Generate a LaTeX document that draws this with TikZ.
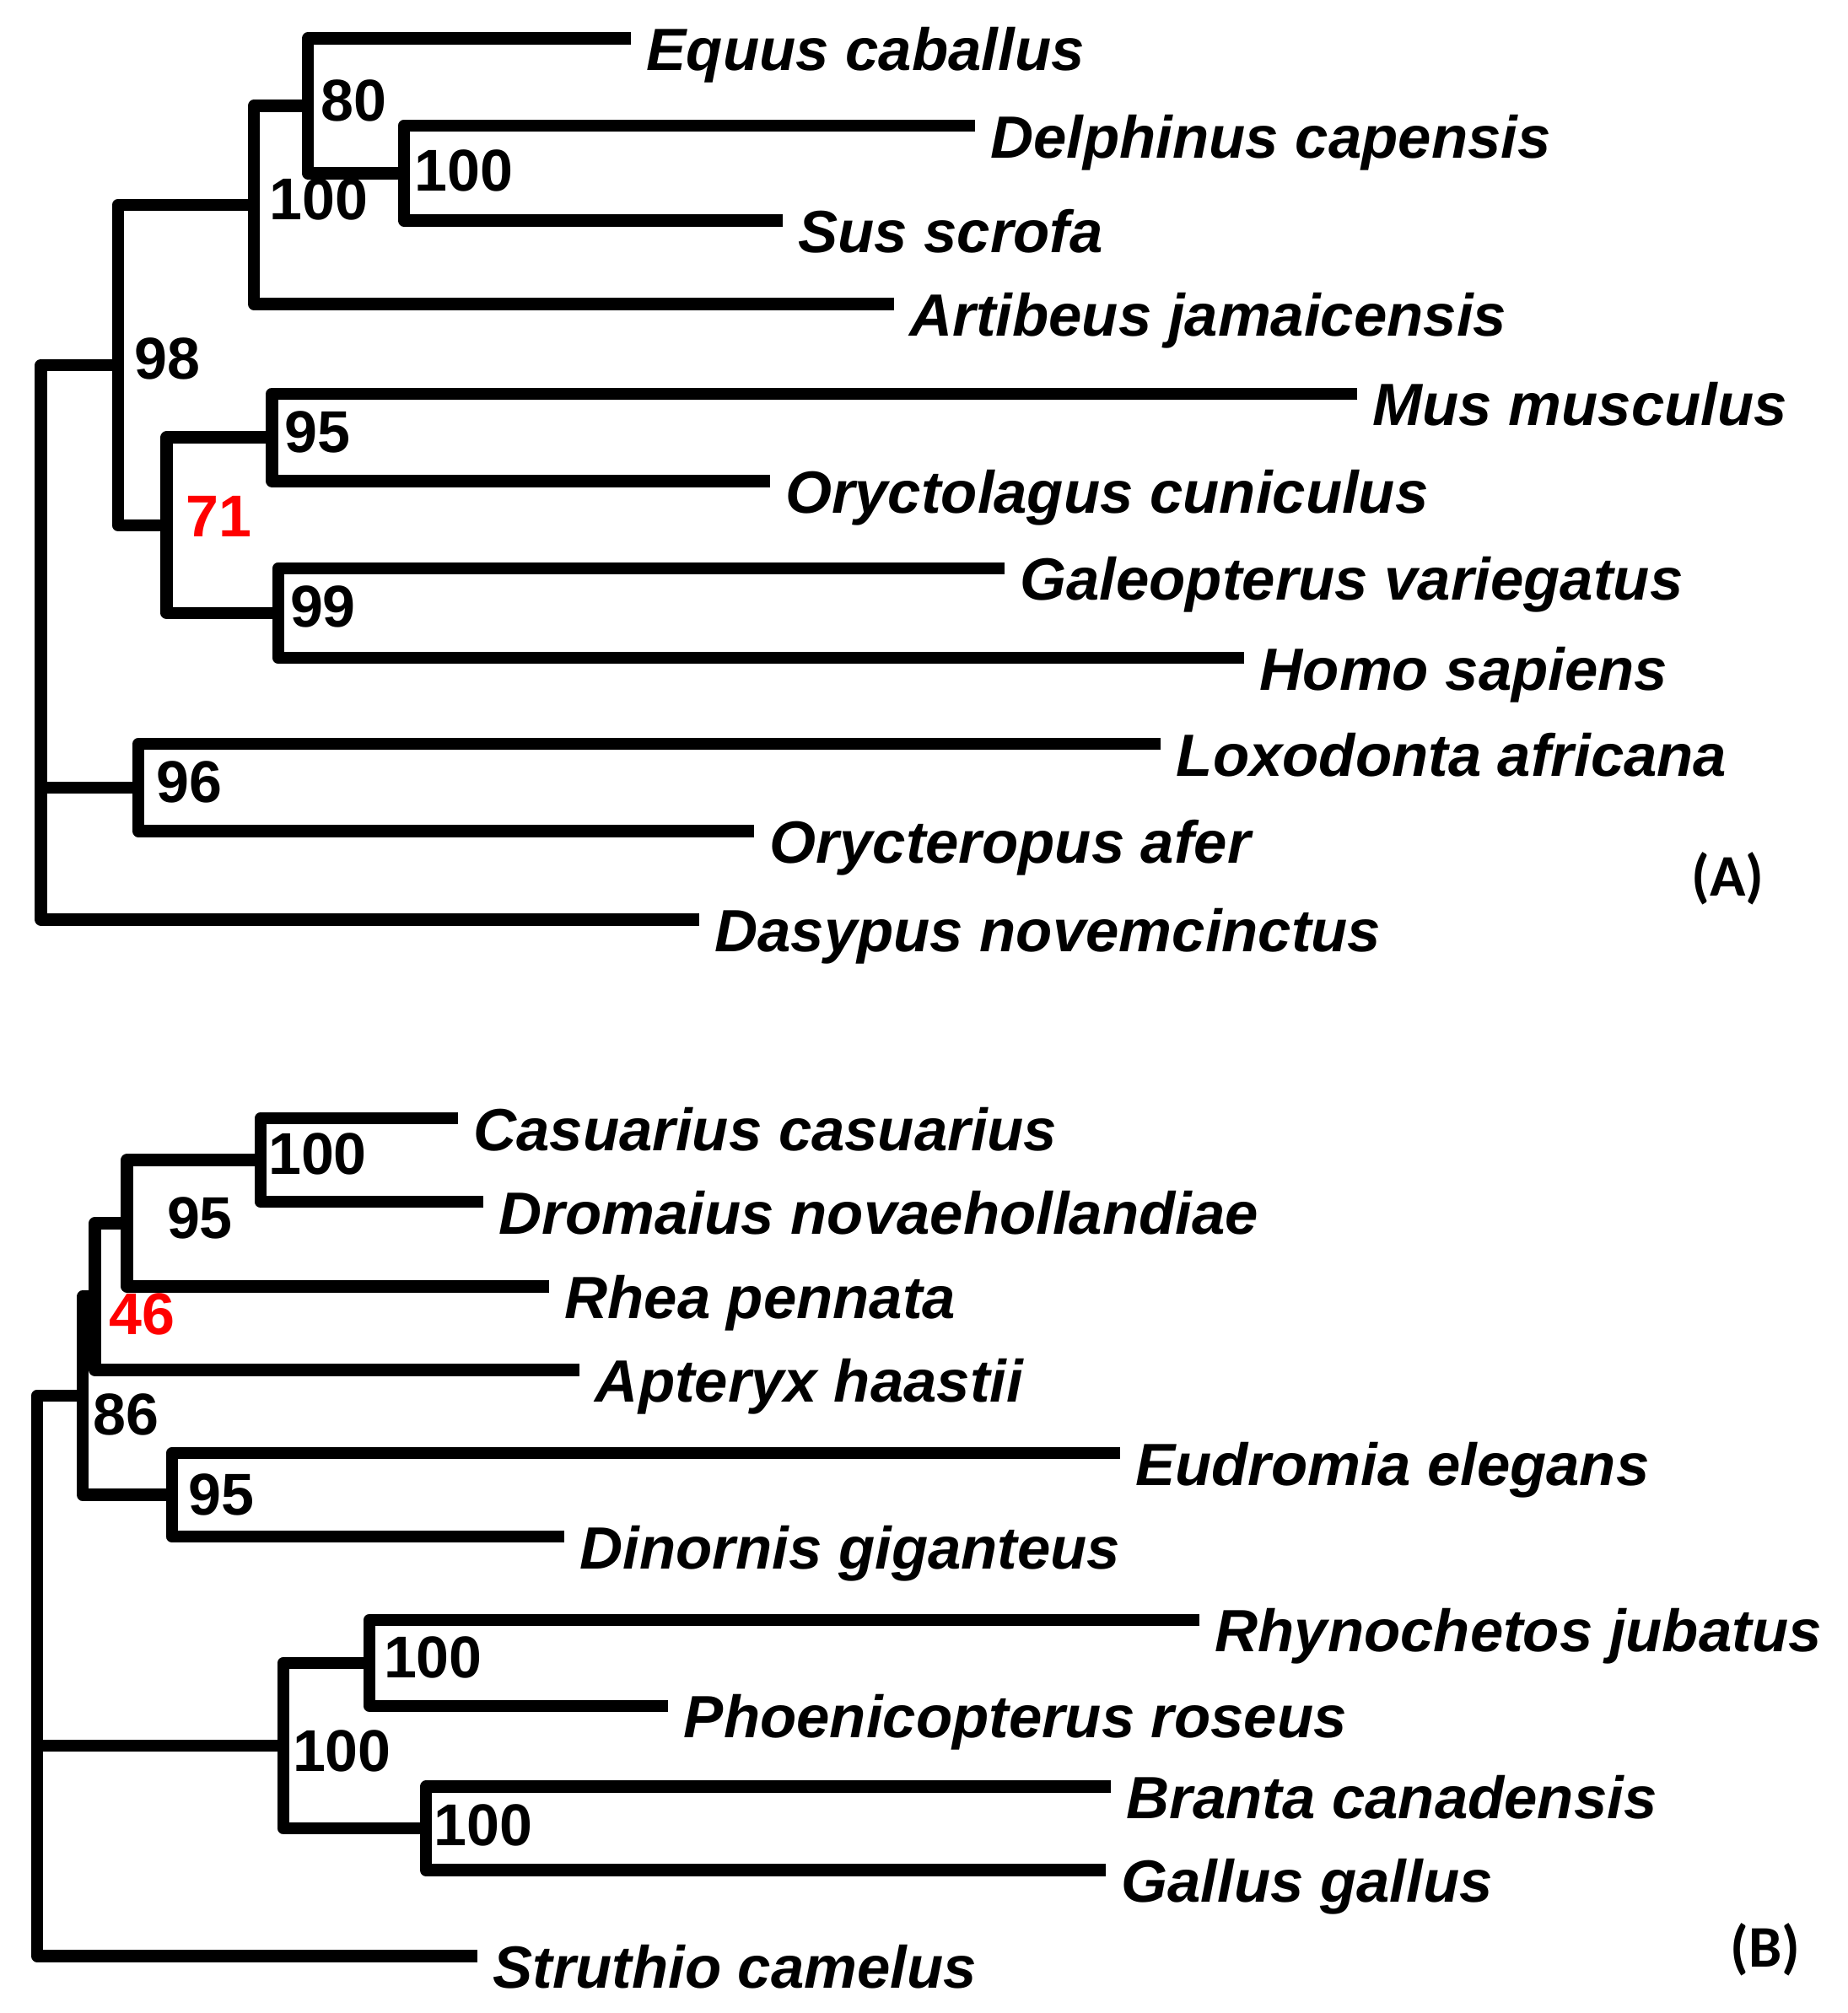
\documentclass[tikz,border=0pt]{standalone}
\usepackage{fontspec}
\setmainfont{Liberation Sans}
\newfontfamily\panelfont{Carlito}
\usetikzlibrary{calc}

\tikzset{
  branch/.style={line width=9.5pt, line join=round},
  taxon/.style={anchor=base west, inner sep=0pt,
    font=\fontsize{46.5}{50}\selectfont\bfseries\itshape},
  supp/.style={anchor=west, inner sep=0pt,
    font=\fontsize{46}{50}\selectfont\bfseries},
  panel/.style={inner sep=0pt, font=\fontsize{46}{50}\selectfont\panelfont\bfseries},
}

\begin{document}
\begin{tikzpicture}[x=1pt,y=-1pt]
    \useasboundingbox (0,0) rectangle (1440,1569.5);
    % leaves: tip of branch, then the name
    \foreach \n/\x/\y/\t in {equus/492/30/Equus caballus,
      delphinus/760/98/Delphinus capensis,
      sus/610/172/Sus scrofa,
      artibeus/697/237/Artibeus jamaicensis,
      mus/1058/307/Mus musculus,
      oryctolagus/600/375/Oryctolagus cuniculus,
      galeopterus/783/443/Galeopterus variegatus,
      homo/970/513/Homo sapiens,
      loxodonta/905/580/Loxodonta africana,
      orycteropus/588/648/Orycteropus afer,
      dasypus/545/717/Dasypus novemcinctus,
      casuarius/357/872/Casuarius casuarius,
      dromaius/377/937/Dromaius novaehollandiae,
      rhea/428/1003/Rhea pennata,
      apteryx/452/1068/Apteryx haastii,
      eudromia/873/1133/Eudromia elegans,
      dinornis/440/1198/Dinornis giganteus,
      rhynochetos/935/1263/Rhynochetos jubatus,
      phoenicopterus/521/1330/Phoenicopterus roseus,
      branta/866/1393/Branta canadensis,
      gallus/862/1458/Gallus gallus,
      struthio/372/1525/Struthio camelus}{%
      \coordinate (\n) at (\x,\y);
      \node[taxon] (l-\n) at ([xshift=12pt,yshift=-25pt]\n) {\t};
    }
    % tree (A)
    \coordinate (cetpig) at (315,135);
    \coordinate (ungul) at (240,82.5);
    \coordinate (laur) at (198,159.75);
    \coordinate (glires) at (212,341);
    \coordinate (primat) at (217,478);
    \coordinate (euarch) at (130,409.5);
    \coordinate (boreo) at (92,284.6);
    \coordinate (afro) at (108,614);
    \coordinate (rootA) at (32,614);
    \draw[branch] (delphinus) -| (cetpig) |- (sus);
    \draw[branch] (equus) -| (ungul) |- (cetpig);
    \draw[branch] (ungul) -| (laur) |- (artibeus);
    \draw[branch] (mus) -| (glires) |- (oryctolagus);
    \draw[branch] (galeopterus) -| (primat) |- (homo);
    \draw[branch] (glires) -| (euarch) |- (primat);
    \draw[branch] (laur) -| (boreo) |- (euarch);
    \draw[branch] (loxodonta) -| (afro) |- (orycteropus);
    \draw[branch] (boreo) -| (rootA) |- (dasypus);
    \draw[branch] (afro) -- (rootA);
    % tree (B)
    \coordinate (casemu) at (203,904.5);
    \coordinate (ratA) at (99,953.75);
    \coordinate (ratB) at (74,1010.9);
    \coordinate (tinamou) at (134,1165.5);
    \coordinate (palaeo) at (64.5,1088.2);
    \coordinate (rhynphoe) at (288,1296.5);
    \coordinate (gallo) at (332,1425.5);
    \coordinate (neo) at (221,1361);
    \coordinate (rootB) at (29,1361);
    \draw[branch] (casuarius) -| (casemu) |- (dromaius);
    \draw[branch] (casemu) -| (ratA) |- (rhea);
    \draw[branch] (ratA) -| (ratB) |- (apteryx);
    \draw[branch] (eudromia) -| (tinamou) |- (dinornis);
    \draw[branch] (ratB) -| (palaeo) |- (tinamou);
    \draw[branch] (rhynochetos) -| (rhynphoe) |- (phoenicopterus);
    \draw[branch] (branta) -| (gallo) |- (gallus);
    \draw[branch] (rhynphoe) -| (neo) |- (gallo);
    \draw[branch] (palaeo) -| (rootB) |- (struthio);
    \draw[branch] (neo) -- (rootB);
    % bootstrap values
    \foreach \n/\v/\dx/\dy in {ungul/80/10/4, cetpig/100/8/2, laur/100/12/4,
      boreo/98/13/5, glires/95/10/4, primat/99/9/5, afro/96/14/4,
      casemu/100/6/4.5, ratA/95/31/4, palaeo/86/8/-15, tinamou/95/13/0,
      rhynphoe/100/11/4.5, neo/100/7/-4, gallo/100/6/2.5}{%
      \node[supp] (s-\n) at ([xshift=\dx pt,yshift=\dy pt]\n) {\v};
    }
    \node[supp,text=red] (s-euarch) at ([xshift=15pt,yshift=6.5pt]euarch) {71};
    \node[supp,text=red] (s-ratB) at ([xshift=11pt,yshift=-14pt]ratB) {46};
    % panel letters
    \node[panel] (panelA) at (1347,685) {(A)};
    \node[panel] (panelB) at (1376,1520) {(B)};
\end{tikzpicture}
\end{document}
